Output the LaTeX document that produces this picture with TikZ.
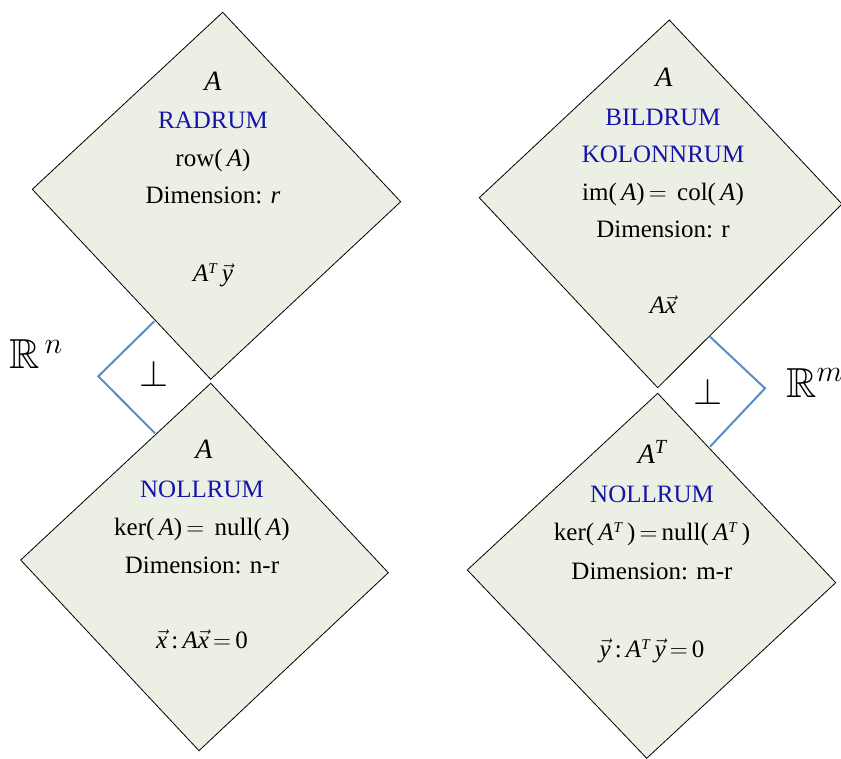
\documentclass[tikz,border=0pt]{standalone}
\usepackage{amsmath,amssymb}
\usepackage{graphicx}
\usepackage{fontspec}
\setmainfont{Liberation Serif}
\usetikzlibrary{positioning}

\definecolor{paleGreen}{RGB}{236,240,228}
\definecolor{titleBlue}{RGB}{20,20,170}
\definecolor{bracketBlue}{RGB}{90,140,200}

\newcommand{\va}{\textit{A}}
\newcommand{\vx}{\ensuremath{\vec{\mbox{\textit{x}}}}}
\newcommand{\vy}{\ensuremath{\vec{\mbox{\textit{y}}}}}
\newcommand{\vat}{\textit{A}\raisebox{8pt}{\fontsize{15}{17}\selectfont\textit{T}}}

\begin{document}
\begin{tikzpicture}[x=1pt, y=-1pt,
  space/.style={draw=black, line width=0.8pt, fill=paleGreen},
  txt/.style={font=\fontsize{25}{30}\selectfont, inner sep=0pt, anchor=base},
  head/.style={txt, font=\fontsize{28}{32}\selectfont\itshape},
  title/.style={txt, text=titleBlue},
  bracket/.style={draw=bracketBlue, line width=2pt},
  sym/.style={font=\fontsize{20}{24}\selectfont, inner sep=0pt, anchor=base},
  field/.style={font=\fontsize{24}{28}\selectfont, inner sep=0pt, anchor=base west}
]
\useasboundingbox (0,0) rectangle (841,759);

% corners of the four spaces
\coordinate (tlT) at (222.7,12.3);
\coordinate (tlL) at (32.3,189.3);
\coordinate (tlR) at (400.7,201.7);
\coordinate (tlB) at (210.7,379.3);

\coordinate (trT) at (669.3,20);
\coordinate (trL) at (479.3,197.7);
\coordinate (trR) at (842,204);
\coordinate (trB) at (657.7,387.7);

\coordinate (blT) at (210.7,383.3);
\coordinate (blL) at (20.7,560);
\coordinate (blR) at (388.3,572.7);
\coordinate (blB) at (199,750.7);

\coordinate (brT) at (657.7,393.3);
\coordinate (brL) at (467.3,570);
\coordinate (brR) at (835.7,582.7);
\coordinate (brB) at (646.7,758.3);

\draw[space] (tlT) -- (tlR) -- (tlB) -- (tlL) -- cycle;
\draw[space] (trT) -- (trR) -- (trB) -- (trL) -- cycle;
\draw[space] (blT) -- (blR) -- (blB) -- (blL) -- cycle;
\draw[space] (brT) -- (brR) -- (brB) -- (brL) -- cycle;

% right angle brackets
\coordinate (lbA) at (154.3,321.3);
\coordinate (lbC) at (98.3,376.3);
\coordinate (lbB) at (155,433.3);
\coordinate (rbA) at (710,336.7);
\coordinate (rbC) at (765,388.3);
\coordinate (rbB) at (710,446.7);
\draw[bracket] (lbA) -- (lbC) -- (lbB);
\draw[bracket] (rbA) -- (rbC) -- (rbB);

\node[sym] (perpL) at (154,386) {\scalebox{1.8}{$\perp$}};
\node[sym] (perpR) at (708.5,404) {\scalebox{1.8}{$\perp$}};
\node[field] (rn) at (9,369) {\scalebox{1.75}{$\mathbb{R}^{\,n}$}};
\node[field] (rm) at (786,397) {\scalebox{1.75}{$\mathbb{R}^{m}$}};

% row space
\node[head] (tlHead) at (213,90.7) {A};
\node[title] (tlName) at (213,129) {RADRUM};
\node[txt] (tlSym) at (213,167) {row(\,\va)};
\node[txt] (tlDim) at (213,204) {Dimension: \textit{r}};
\node[txt] (tlVec) at (213,282) {\vat\,\vy};

% column space
\node[head] (trHead) at (664,87) {A};
\node[title] (trName) at (663,126) {BILDRUM};
\node[title] (trName2) at (663,163) {KOLONNRUM};
\node[txt] (trSym) at (663,200.7) {im(\,\va)$\,=\,$ col(\,\va)};
\node[txt] (trDim) at (663,238) {Dimension: r};
\node[txt] (trVec) at (663,314) {\va\vx};

% null space
\node[head] (blHead) at (204,458) {A};
\node[title] (blName) at (202,497) {NOLLRUM};
\node[txt] (blSym) at (202,535) {ker(\,\va)$\,=\,$ null(\,\va)};
\node[txt] (blDim) at (202,573) {Dimension: n-r};
\node[txt] (blVec) at (202,648) {\vx\,:\,\va\vx$\,=\,$0};

% left null space
\node[head] (brHead) at (652,463) {A\raisebox{10pt}{\fontsize{20}{22}\selectfont\textit{T}}};
\node[title] (brName) at (652,502) {NOLLRUM};
\node[txt] (brSym) at (652,540) {ker(\,\vat\,)$\,=\,$null(\,\vat\,)};
\node[txt] (brDim) at (652,579) {Dimension: m-r};
\node[txt] (brVec) at (652,657) {\vy\,:\,\vat\,\vy$\,=\,$0};
\end{tikzpicture}
\end{document}
